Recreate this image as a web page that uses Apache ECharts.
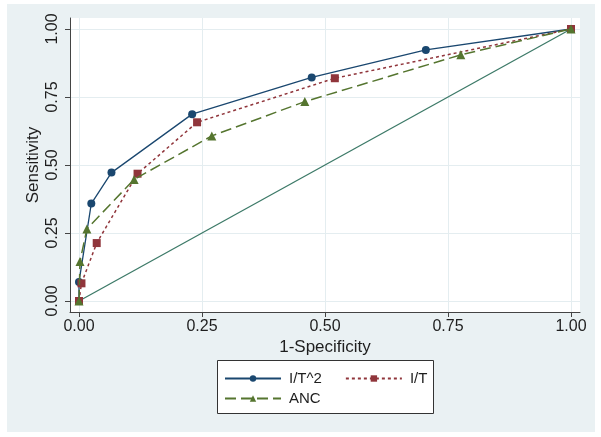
<!DOCTYPE html>
<html>
<head>
<meta charset="utf-8">
<script src="https://cdn.jsdelivr.net/npm/echarts@6/dist/echarts.min.js"></script>
<style>
html,body{margin:0;padding:0;background:#ffffff;}
#chart{width:601px;height:437px;}
</style>
</head>
<body>
<div id="chart"></div>
<script>
// ---- data ----
const tickValues = [0, 0.25, 0.5, 0.75, 1];
const fprIT2 = [0, 0.0, 0.025, 0.066, 0.230, 0.473, 0.705, 1];
const tprIT2 = [0, 0.07, 0.358, 0.472, 0.687, 0.822, 0.923, 1];
const fprIT = [0, 0.005, 0.036, 0.119, 0.240, 0.520, 1];
const tprIT = [0, 0.065, 0.213, 0.468, 0.657, 0.819, 1];
const fprANC = [0, 0.002, 0.016, 0.112, 0.270, 0.459, 0.776, 1];
const tprANC = [0, 0.145, 0.265, 0.447, 0.607, 0.733, 0.905, 1];
const refX = [0, 1];
const refY = [0, 1];
const seriesNames = ['I/T^2', 'I/T', 'ANC'];

const pairs = (xs, ys) => xs.map((x, i) => [x, ys[i]]);

const chart = echarts.init(document.getElementById('chart'), null, {renderer: 'canvas'});
const font = 'Liberation Sans, Arial, Helvetica, sans-serif';
const textColor = '#1e1e1e';
const axisColor = '#444';
const gridColor = '#e4edf0';

const option = {
  animation: false,
  backgroundColor: '#ffffff',
  textStyle: {fontFamily: font},
  graphic: [
    {type: 'rect', z: -100, silent: true,
     shape: {x: 7, y: 4, width: 588, height: 428},
     style: {fill: '#eaf1f3'}},
    {type: 'rect', z: 100, silent: true,
     shape: {x: 217.5, y: 360.5, width: 216, height: 53},
     style: {fill: '#ffffff', stroke: '#333', lineWidth: 1}}
  ],
  grid: {left: 70, top: 18, right: 21, bottom: 125, show: true,
         backgroundColor: '#ffffff', borderWidth: 0, containLabel: false},
  xAxis: {
    type: 'value', min: -9/492, max: 1 + 9/492,
    name: '1-Specificity', nameLocation: 'middle', nameGap: 27, nameMoveOverlap: false,
    nameTextStyle: {fontSize: 17, color: textColor, fontFamily: font},
    axisLine: {show: true, onZero: false, lineStyle: {color: axisColor, width: 1}},
    axisTick: {show: true, length: 5, customValues: tickValues, lineStyle: {color: axisColor}},
    axisLabel: {customValues: tickValues, fontSize: 16, color: textColor, margin: 7,
                formatter: v => v.toFixed(2), fontFamily: font},
    splitLine: {show: true, lineStyle: {color: gridColor, width: 1}}
  },
  yAxis: {
    type: 'value', min: -11/272, max: 1 + 11/272,
    name: 'Sensitivity', nameLocation: 'middle', nameGap: 28, nameMoveOverlap: false,
    nameTextStyle: {fontSize: 17, color: textColor, fontFamily: font},
    axisLine: {show: true, onZero: false, lineStyle: {color: axisColor, width: 1}},
    axisTick: {show: true, length: 5, customValues: tickValues, lineStyle: {color: axisColor}},
    axisLabel: {customValues: tickValues, fontSize: 16, color: textColor, margin: 9, rotate: 90,
                formatter: v => v.toFixed(2), fontFamily: font},
    splitLine: {show: true, lineStyle: {color: gridColor, width: 1}}
  },
  legend: [
    {left: 224, top: 371, itemWidth: 56, itemHeight: 8, itemGap: 23, padding: 0,
     data: [seriesNames[0], seriesNames[1]], z: 110,
     textStyle: {fontSize: 15, color: textColor, fontFamily: font, padding: [0, 0, 0, 3]}},
    {left: 224, top: 391, itemWidth: 56, itemHeight: 8, itemGap: 23, padding: 0,
     data: [seriesNames[2]], z: 110,
     textStyle: {fontSize: 15, color: textColor, fontFamily: font, padding: [0, 0, 0, 3]}}
  ],
  series: [
    {name: 'ref', type: 'line', data: pairs(refX, refY), symbol: 'none',
     lineStyle: {color: '#3d7a68', width: 1.3}, z: 1, silent: true},
    {name: seriesNames[0], type: 'line', data: pairs(fprIT2, tprIT2),
     symbol: 'circle', symbolSize: 8, color: '#1a476f',
     lineStyle: {color: '#1a476f', width: 1.3, type: 'solid'},
     itemStyle: {color: '#1a476f'}, z: 2},
    {name: seriesNames[1], type: 'line', data: pairs(fprIT, tprIT),
     symbol: 'rect', symbolSize: 8, color: '#90353b',
     lineStyle: {color: '#90353b', width: 1.5, type: [3, 3]},
     itemStyle: {color: '#90353b'}, z: 3},
    {name: seriesNames[2], type: 'line', data: pairs(fprANC, tprANC),
     symbol: 'triangle', symbolSize: 9, color: '#55752f',
     lineStyle: {color: '#55752f', width: 1.5, type: [11, 5]},
     itemStyle: {color: '#55752f'}, z: 4}
  ]
};
chart.setOption(option);
</script>
</body>
</html>
